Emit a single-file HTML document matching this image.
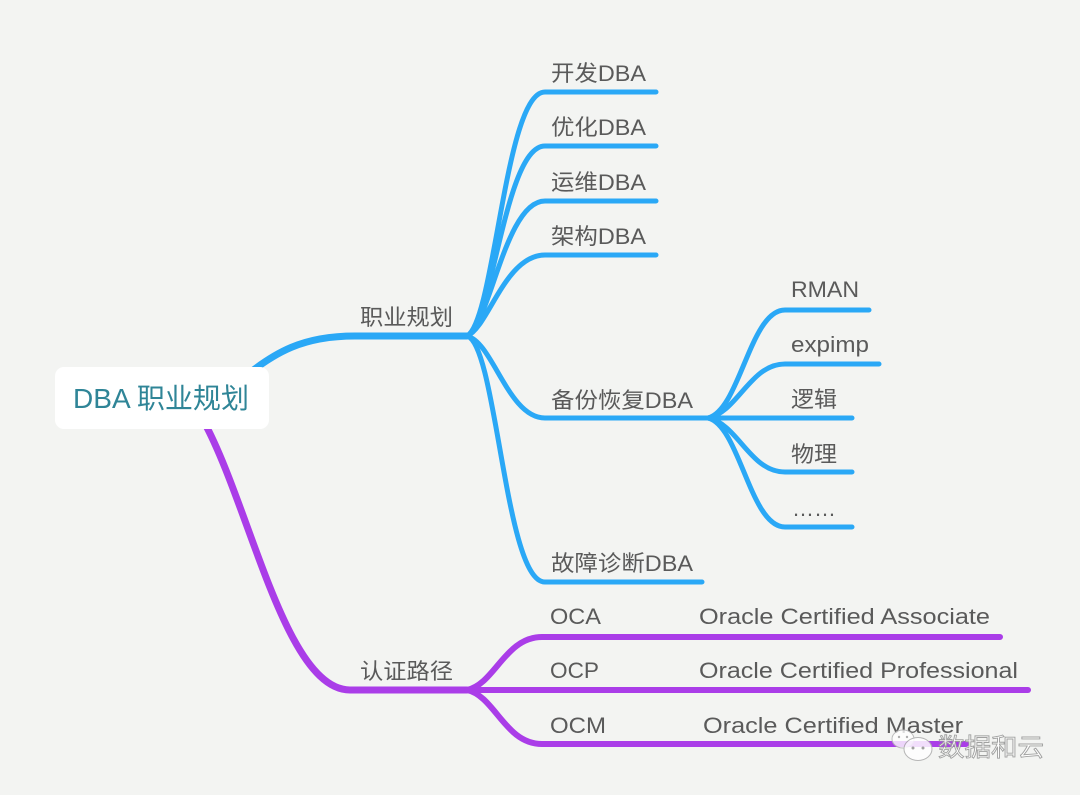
<!DOCTYPE html>
<html>
<head>
<meta charset="utf-8">
<style>
  html,body{margin:0;padding:0;background:#f3f4f2;}
  svg{display:block;}
  text{font-family:"Liberation Sans","Noto Sans CJK SC",sans-serif;}
</style>
</head>
<body>
<svg width="1080" height="795" viewBox="0 0 1080 795" xmlns="http://www.w3.org/2000/svg">
  <rect x="0" y="0" width="1080" height="795" fill="#f3f4f2"/>

  <!-- Blue branch: root to 职业规划 -->
  <g fill="none" stroke="#2aa8f6" stroke-linecap="round" stroke-linejoin="round">
    <path d="M235,385 C275,350 305,336 355,336 L467,336" stroke-width="7"/>
    <!-- children of 职业规划 -->
    <path d="M467,336 C495,320 505,92 545,92 L656,92" stroke-width="5"/>
    <path d="M467,336 C493,322 505,146 545,146 L656,146" stroke-width="5"/>
    <path d="M467,336 C490,325 505,201 545,201 L656,201" stroke-width="5"/>
    <path d="M467,336 C488,328 505,255 545,255 L656,255" stroke-width="5"/>
    <path d="M467,336 C493,342 508,418 545,418 L708,418" stroke-width="5"/>
    <path d="M467,336 C497,345 505,582 545,582 L702,582" stroke-width="5"/>
    <!-- children of 备份恢复DBA -->
    <path d="M708,418 C740,410 750,310 785,310 L869,310" stroke-width="5"/>
    <path d="M708,418 C738,412 750,364 785,364 L879,364" stroke-width="5"/>
    <path d="M708,418 L852,418" stroke-width="5"/>
    <path d="M708,418 C738,424 750,472 785,472 L852,472" stroke-width="5"/>
    <path d="M708,418 C740,426 750,527 785,527 L852,527" stroke-width="5"/>
  </g>

  <!-- Purple branch: root to 认证路径 -->
  <g fill="none" stroke="#aa3de8" stroke-linecap="round" stroke-linejoin="round">
    <path d="M203,420 C250,505 285,690 350,690 L467,690" stroke-width="7"/>
    <path d="M467,690 C495,684 505,637 542,637 L1000,637" stroke-width="6"/>
    <path d="M467,690 L1028,690" stroke-width="6"/>
    <path d="M467,690 C495,696 505,744 542,744 L966,744" stroke-width="6"/>
  </g>

  <!-- Root node -->
  <rect x="55" y="367" width="214" height="62" rx="9" ry="9" fill="#ffffff"/>
  <text x="73" y="408" font-size="28" fill="#2f8597" textLength="176" lengthAdjust="spacingAndGlyphs">DBA 职业规划</text>

  <!-- Level 1 labels -->
  <g font-size="22" fill="#5a5a5a">
    <text x="360" y="325" textLength="93" lengthAdjust="spacingAndGlyphs">职业规划</text>
    <text x="360" y="679" textLength="93" lengthAdjust="spacingAndGlyphs">认证路径</text>

    <text x="551" y="81" textLength="95" lengthAdjust="spacingAndGlyphs">开发DBA</text>
    <text x="551" y="135" textLength="95" lengthAdjust="spacingAndGlyphs">优化DBA</text>
    <text x="551" y="190" textLength="95" lengthAdjust="spacingAndGlyphs">运维DBA</text>
    <text x="551" y="244" textLength="95" lengthAdjust="spacingAndGlyphs">架构DBA</text>
    <text x="551" y="408" textLength="142" lengthAdjust="spacingAndGlyphs">备份恢复DBA</text>
    <text x="551" y="571" textLength="142" lengthAdjust="spacingAndGlyphs">故障诊断DBA</text>

    <text x="791" y="297" textLength="68" lengthAdjust="spacingAndGlyphs">RMAN</text>
    <text x="791" y="352" textLength="78" lengthAdjust="spacingAndGlyphs">expimp</text>
    <text x="791" y="407" textLength="46" lengthAdjust="spacingAndGlyphs">逻辑</text>
    <text x="791" y="462" textLength="46" lengthAdjust="spacingAndGlyphs">物理</text>
    <text x="792" y="516" textLength="44" lengthAdjust="spacingAndGlyphs">……</text>

    <text x="550" y="624" textLength="51" lengthAdjust="spacingAndGlyphs">OCA</text>
    <text x="550" y="678" textLength="49" lengthAdjust="spacingAndGlyphs">OCP</text>
    <text x="550" y="733" textLength="56" lengthAdjust="spacingAndGlyphs">OCM</text>

    <text x="699" y="624" textLength="291" lengthAdjust="spacingAndGlyphs">Oracle Certified Associate</text>
    <text x="699" y="678" textLength="319" lengthAdjust="spacingAndGlyphs">Oracle Certified Professional</text>
    <text x="703" y="733" textLength="260" lengthAdjust="spacingAndGlyphs">Oracle Certified Master</text>
  </g>

  <!-- Watermark -->
  <g opacity="0.92">
    <ellipse cx="903" cy="739" rx="11" ry="9" fill="#ffffff" fill-opacity="0.85" stroke="#b8b8b8" stroke-width="1"/>
    <ellipse cx="918" cy="749" rx="14" ry="11.5" fill="#ffffff" fill-opacity="0.9" stroke="#b0b0b0" stroke-width="1"/>
    <circle cx="899" cy="737" r="1.2" fill="#aaa"/>
    <circle cx="907" cy="737" r="1.2" fill="#aaa"/>
    <circle cx="913" cy="748" r="1.5" fill="#999"/>
    <circle cx="923" cy="748" r="1.5" fill="#999"/>
    <text x="938" y="756" font-size="25" fill="#ffffff" stroke="#9a9a9a" stroke-width="0.9" textLength="106" lengthAdjust="spacingAndGlyphs">数据和云</text>
  </g>
</svg>
</body>
</html>
